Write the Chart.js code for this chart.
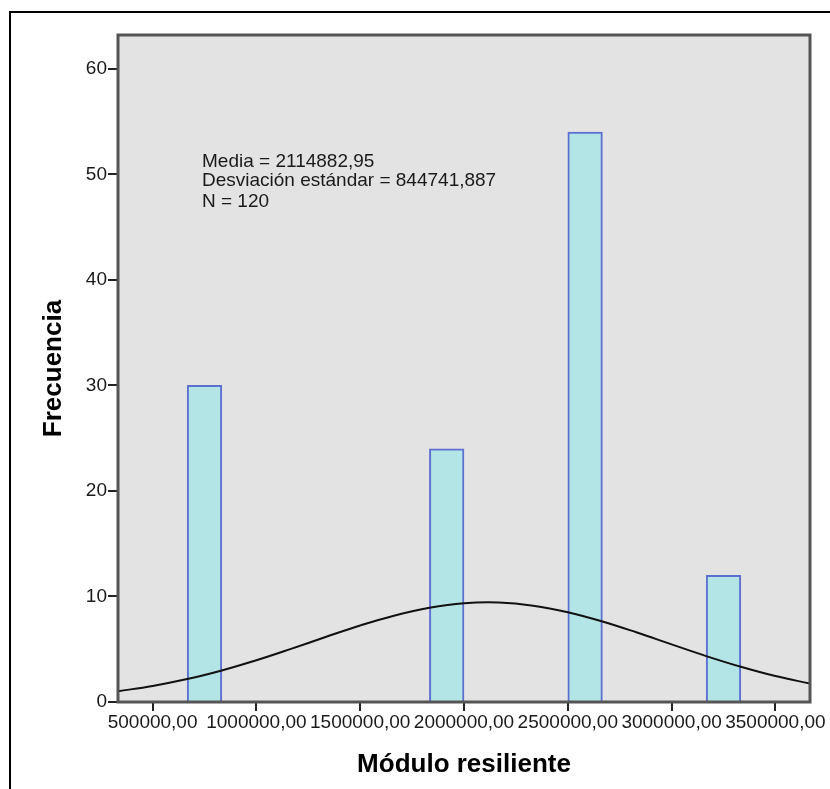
<!DOCTYPE html>
<html>
<head>
<meta charset="utf-8">
<script src="https://cdn.jsdelivr.net/npm/chart.js@4"></script>
<style>
  body { margin: 0; background: #fff; }
  #wrap { position: relative; width: 830px; height: 789px; overflow: hidden; }
  #frame { position: absolute; left: 9px; top: 11px; width: 840px; height: 800px;
           border-left: 2px solid #000; border-top: 2px solid #000; }
  #myChart { position: absolute; left: 0; top: 0; }
</style>
</head>
<body>
<div id="wrap">
  <div id="frame"></div>
  <canvas id="myChart" width="830" height="789"></canvas>
</div>
<script>
// histogram bins (start of each bin), width = 166666,67
const binStarts = [
  333333.33, 500000, 666666.67, 833333.33, 1000000, 1166666.67, 1333333.33,
  1500000, 1666666.67, 1833333.33, 2000000, 2166666.67, 2333333.33, 2500000,
  2666666.67, 2833333.33, 3000000, 3166666.67, 3333333.33, 3500000
];
const binCounts = [
  null, null, 30, null, null, null, null,
  null, null, 24, null, null, null, 54,
  null, null, null, 12, null, null
];

// normal curve
const curveX = [
  333333, 500000, 666667, 833333, 1000000, 1166667, 1333333, 1500000,
  1666667, 1833333, 2000000, 2166667, 2333333, 2500000, 2666667, 2833333,
  3000000, 3166667, 3333333, 3500000, 3666667
];
const curveY = [
  1.02, 1.52, 2.17, 2.99, 3.95, 5.03, 6.16, 7.25,
  8.2, 8.93, 9.36, 9.43, 9.13, 8.51, 7.63, 6.58,
  5.46, 4.35, 3.34, 2.46, 1.75
];

const xTickValues = [500000, 1000000, 1500000, 2000000, 2500000, 3000000, 3500000];
const statLines = ["Media = 2114882,95", "Desviación estándar = 844741,887", "N = 120"];

const xMin = 333333.33, xMax = 3666666.67;
const tickFont = { family: "'Liberation Sans', Arial, sans-serif", size: 19 };
const titleFont = { family: "'Liberation Sans', Arial, sans-serif", size: 26, weight: "bold" };

const plotBox = {
  id: "plotBox",
  beforeDraw(chart) {
    const a = chart.chartArea, c = chart.ctx;
    c.save();
    c.fillStyle = "#e3e3e3";
    c.fillRect(a.left, a.top, a.right - a.left, a.bottom - a.top);
    c.restore();
  },
  afterDatasetsDraw(chart) {
    const a = chart.chartArea, c = chart.ctx;
    c.save();
    c.strokeStyle = "#555";
    c.lineWidth = 3;
    c.strokeRect(a.left, a.top, a.right - a.left, a.bottom - a.top);
    c.font = "19px 'Liberation Sans', Arial, sans-serif";
    c.fillStyle = "#1a1a1a";
    const ys = [167, 186, 207];
    statLines.forEach((t, i) => c.fillText(t, a.left + 84, ys[i]));
    c.restore();
  }
};

const ctx = document.getElementById("myChart");

new Chart(ctx, {
  type: "bar",
  data: {
    labels: binStarts,
    datasets: [
      {
        label: "Frecuencia",
        data: binCounts,
        backgroundColor: "#b4e5e6",
        borderColor: "#5d70d0",
        borderWidth: 2,
        barPercentage: 1,
        categoryPercentage: 1,
        grouped: false,
        xAxisID: "x",
        order: 2,
      },
      {
        type: "line",
        label: "Normal",
        data: curveX.map((x, i) => ({ x: x, y: curveY[i] })),
        borderColor: "#111",
        borderWidth: 2,
        pointRadius: 0,
        tension: 0.4,
        fill: false,
        xAxisID: "xv",
        order: 1,
      },
    ],
  },
  options: {
    responsive: false,
    animation: false,
    devicePixelRatio: 1,
    layout: { padding: { top: 35, right: 20, left: 0, bottom: 0 } },
    plugins: { legend: { display: false }, tooltip: { enabled: false } },
    scales: {
      x: { type: "category", display: false, offset: true },
      xv: {
        type: "linear",
        position: "bottom",
        min: xMin,
        max: xMax,
        offset: false,
        grid: { display: true, offset: false, drawOnChartArea: false, drawTicks: true, tickLength: 9, color: "#222", lineWidth: 2 },
        border: { display: false },
        afterBuildTicks: (s) => { s.ticks = xTickValues.map((v) => ({ value: v })); },
        afterFit: (s) => { s.height = 87; s.paddingLeft = 0; s.paddingRight = 0; },
        ticks: {
          autoSkip: false,
          maxRotation: 0,
          padding: 0,
          color: "#1a1a1a",
          font: tickFont,
          callback: (v) => v.toFixed(2).replace(".", ","),
        },
        title: { display: true, text: "Módulo resiliente", color: "#000", font: titleFont, padding: { top: 0, bottom: 9 } },
      },
      y: {
        min: 0,
        max: 63.2,
        grid: { display: true, drawOnChartArea: false, drawTicks: true, tickLength: 10, color: "#222", lineWidth: 2 },
        border: { display: false },
        afterFit: (s) => { s.width = 118; },
        ticks: { stepSize: 10, includeBounds: false, padding: 1, color: "#1a1a1a", font: tickFont },
        title: { display: true, text: "Frecuencia", color: "#000", font: titleFont, padding: { top: 38, bottom: 0 } },
      },
    },
  },
  plugins: [plotBox],
});
</script>
</body>
</html>
